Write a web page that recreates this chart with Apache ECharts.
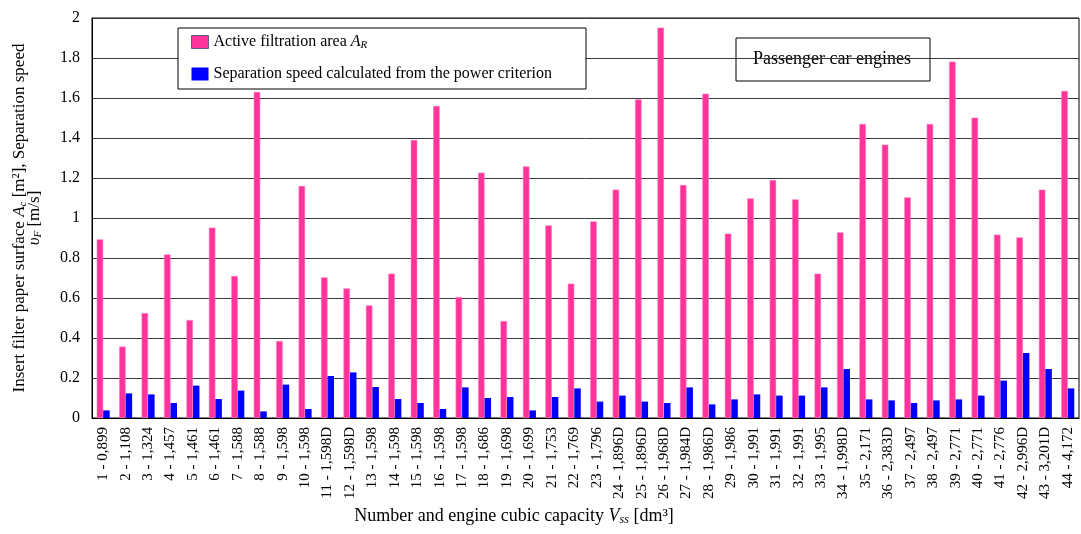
<!DOCTYPE html>
<html>
<head>
<meta charset="utf-8">
<script src="https://cdn.jsdelivr.net/npm/echarts@6/dist/echarts.min.js"></script>
<style>
  html, body { margin: 0; padding: 0; background: #fff; }
  #chart { width: 1081px; height: 534px; }
</style>
</head>
<body>
<div id="chart"></div>
<script>
// Engine number and cubic capacity [dm3]
const engines = [
  '1 - 0,899', '2 - 1,108', '3 - 1,324', '4 - 1,457', '5 - 1,461', '6 - 1,461',
  '7 - 1,588', '8 - 1,588', '9 - 1,598', '10 - 1,598', '11 - 1,598D', '12 - 1,598D',
  '13 - 1,598', '14 - 1,598', '15 - 1,598', '16 - 1,598', '17 - 1,598', '18 - 1,686',
  '19 - 1,698', '20 - 1,699', '21 - 1,753', '22 - 1,769', '23 - 1,796', '24 - 1,896D',
  '25 - 1,896D', '26 - 1,968D', '27 - 1,984D', '28 - 1,986D', '29 - 1,986', '30 - 1,991',
  '31 - 1,991', '32 - 1,991', '33 - 1,995', '34 - 1,998D', '35 - 2,171', '36 - 2,383D',
  '37 - 2,497', '38 - 2,497', '39 - 2,771', '40 - 2,771', '41 - 2,776', '42 - 2,996D',
  '43 - 3,201D', '44 - 4,172'
];

// Active filtration area A_R [m2]
const filtrationArea = [
  0.893, 0.357, 0.525, 0.818, 0.490, 0.952, 0.710, 1.630, 0.385, 1.160, 0.703,
  0.648, 0.563, 0.722, 1.390, 1.560, 0.605, 1.227, 0.485, 1.258, 0.963, 0.672,
  0.983, 1.142, 1.593, 1.952, 1.165, 1.622, 0.922, 1.098, 1.190, 1.093, 0.722,
  0.928, 1.470, 1.367, 1.103, 1.470, 1.782, 1.502, 0.917, 0.903, 1.142, 1.635
];

// Separation speed from the power criterion [m/s]
const separationSpeed = [
  0.038, 0.123, 0.118, 0.075, 0.162, 0.095, 0.137, 0.033, 0.167, 0.045, 0.210,
  0.228, 0.155, 0.095, 0.075, 0.045, 0.153, 0.100, 0.105, 0.038, 0.105, 0.148,
  0.082, 0.112, 0.082, 0.075, 0.153, 0.068, 0.093, 0.118, 0.112, 0.112, 0.153,
  0.245, 0.093, 0.088, 0.075, 0.088, 0.093, 0.112, 0.187, 0.325, 0.245, 0.148
];

const seriesNames = ['Active filtration area', 'Separation speed calculated from the power criterion'];

const serif = '"Liberation Serif", "DejaVu Serif", serif';
const pink = '#FF3399';
const blue = '#0000FF';

const chart = echarts.init(document.getElementById('chart'));

chart.setOption({
  backgroundColor: '#ffffff',
  animation: false,
  textStyle: { fontFamily: serif, color: '#000' },
  grid: {
    left: 92, right: 2, top: 18, bottom: 116,
    show: true, borderColor: '#000', borderWidth: 1,
    outerBoundsMode: 'none'
  },
  legend: {
    orient: 'vertical',
    left: 186, top: 29,
    z: 6,
    itemWidth: 17, itemHeight: 13, itemGap: 15,
    icon: 'rect',
    data: [
      { name: seriesNames[0], itemStyle: { borderColor: '#5b5b8c', borderWidth: 1 } },
      { name: seriesNames[1] }
    ],
    formatter: function (name) {
      return name === seriesNames[0] ? name + ' {i|A}{sub|R}' : name;
    },
    textStyle: {
      fontFamily: serif, fontSize: 16, color: '#000',
      rich: {
        i: { fontFamily: serif, fontSize: 16, fontStyle: 'italic' },
        sub: { fontFamily: serif, fontSize: 11, fontStyle: 'italic', padding: [7, 0, 0, 0] }
      }
    }
  },
  graphic: [
    {
      type: 'rect', z: 5,
      shape: { x: 178, y: 28, width: 408, height: 61 },
      style: { fill: '#fff', stroke: '#000', lineWidth: 1 }
    },
    {
      type: 'group', z: 5,
      children: [
        {
          type: 'rect',
          shape: { x: 736, y: 38, width: 194, height: 43 },
          style: { fill: '#fff', stroke: '#000', lineWidth: 1 }
        },
        {
          type: 'text',
          x: 832, y: 59.5,
          style: {
            text: 'Passenger car engines',
            font: '18px ' + serif,
            fill: '#000',
            align: 'center', verticalAlign: 'middle'
          }
        }
      ]
    }
  ],
  xAxis: {
    type: 'category',
    data: engines,
    axisLine: { show: true, lineStyle: { color: '#000', width: 1 } },
    axisTick: { show: false },
    axisLabel: {
      interval: 0, rotate: 90, margin: 9,
      fontFamily: serif, fontSize: 15, color: '#000'
    },
    name: 'Number and engine cubic capacity {i|V}{sub|ss} [dm³]',
    nameLocation: 'middle',
    nameGap: 88,
    nameTextStyle: {
      fontFamily: serif, fontSize: 18, color: '#000',
      padding: [0, 143, 0, 0],
      rich: {
        i: { fontFamily: serif, fontSize: 18, fontStyle: 'italic' },
        sub: { fontFamily: serif, fontSize: 12, fontStyle: 'italic', padding: [7, 0, 0, 0] }
      }
    }
  },
  yAxis: {
    type: 'value',
    min: 0, max: 2, interval: 0.2,
    axisLine: { show: true, lineStyle: { color: '#000', width: 1 } },
    axisTick: { show: false },
    axisLabel: { fontFamily: serif, fontSize: 16, color: '#000', margin: 12 },
    splitLine: { show: true, lineStyle: { color: '#3a3a3a', width: 1 } },
    name: 'Insert filter paper surface {i|A}{sub|c} [m²], Separation speed\n{i|υ}{sub|F} [m/s]',
    nameLocation: 'middle',
    nameRotate: 90,
    nameGap: 50,
    nameTextStyle: {
      fontFamily: serif, fontSize: 17, color: '#000', lineHeight: 15, align: 'center',
      rich: {
        i: { fontFamily: serif, fontSize: 17, fontStyle: 'italic', lineHeight: 15 },
        sub: { fontFamily: serif, fontSize: 11, fontStyle: 'italic', padding: [7, 0, 0, 0], lineHeight: 15 }
      }
    }
  },
  series: [
    {
      name: seriesNames[0],
      type: 'bar',
      data: filtrationArea,
      barWidth: '29%',
      barGap: '0%',
      itemStyle: { color: pink, borderColor: '#ff7ac0', borderWidth: 0.6 }
    },
    {
      name: seriesNames[1],
      type: 'bar',
      data: separationSpeed,
      barWidth: '29%',
      barGap: '0%',
      itemStyle: { color: blue }
    }
  ]
});
</script>
</body>
</html>
